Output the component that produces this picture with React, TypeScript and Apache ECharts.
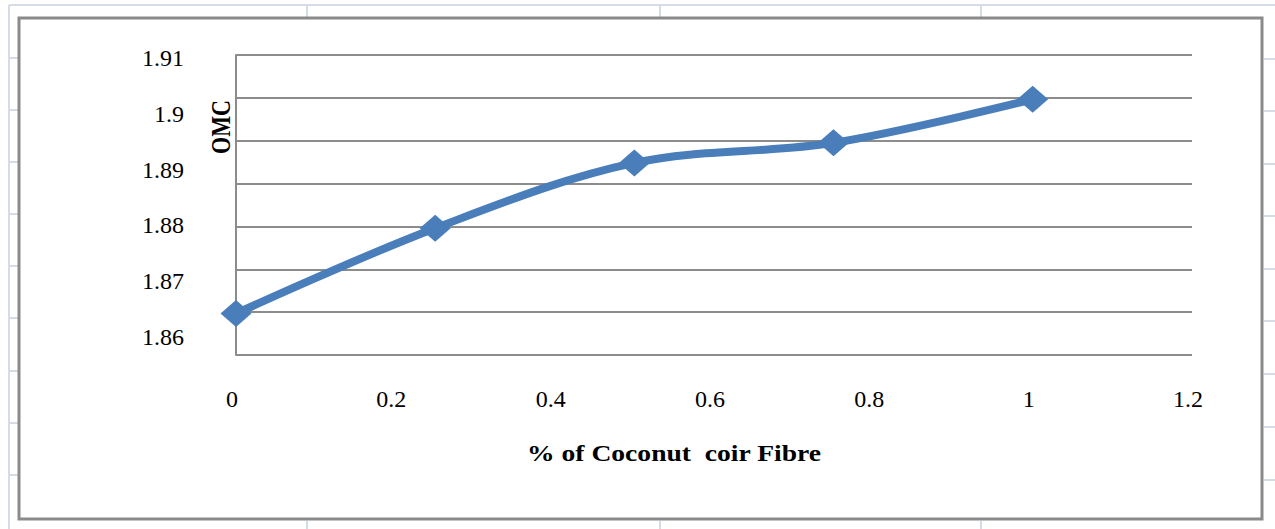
import React, { useEffect, useRef } from "react";
import * as echarts from "echarts";

const xValues = [0, 0.25, 0.5, 0.75, 1];
const omcValues = [1.8642, 1.8795, 1.8912, 1.8948, 1.9026];
const yTickMin = 1.86;
const yTickMax = 1.91;
const yTickStep = 0.01;
const xMin = 0;
const xMax = 1.2;
const xStep = 0.2;
const gridBands = 7;
const xTitle = "% of Coconut  coir Fibre";
const yTitle = "OMC";

const SERIF = "'Liberation Serif', 'Times New Roman', serif";
const SHEET = "#d5dce8";

export default function App() {
  const ref = useRef<HTMLDivElement>(null);
  useEffect(() => {
    if (!ref.current) return;
    const chart = echarts.init(ref.current, undefined, { renderer: "svg" });
    const sheetLines: any[] = [];
    const seg = (x1: number, y1: number, x2: number, y2: number) =>
      sheetLines.push({
        type: "line",
        shape: { x1, y1, x2, y2 },
        style: { stroke: SHEET, lineWidth: 2 },
        silent: true,
      });
    seg(9, 5, 1275, 5);
    seg(9, 5, 9, 529);
    [307, 660, 981].forEach((x) => {
      seg(x, 5, x, 17);
      seg(x, 521, x, 529);
    });
    [58, 110, 162, 214, 266, 318, 371, 423, 475].forEach((y) => seg(9, y, 18, y));
    [59, 111, 164, 216, 269, 321, 374, 427, 480].forEach((y) => seg(1264, y, 1275, y));

    chart.setOption({
      animation: false,
      backgroundColor: "#ffffff",
      grid: [
        { left: 236, top: 55, width: 956, height: 300 },
        { left: 236, top: 58, width: 956, height: 279 },
      ],
      xAxis: [
        {
          type: "value",
          gridIndex: 0,
          min: xMin,
          max: xMax,
          interval: xStep,
          axisLine: { show: false },
          axisTick: { show: false },
          splitLine: { show: false },
          axisLabel: {
            fontFamily: SERIF,
            fontSize: 24,
            color: "#000",
            margin: 32,
            padding: [0, 8, 0, 0],
          },
        },
        {
          type: "value",
          gridIndex: 1,
          min: xMin,
          max: xMax,
          show: false,
        },
      ],
      yAxis: [
        {
          type: "value",
          gridIndex: 0,
          min: 0,
          max: gridBands,
          interval: 1,
          axisLabel: { show: false },
          axisTick: { show: false },
          axisLine: { show: true, lineStyle: { color: "#8c8c8c", width: 2 } },
          splitLine: { show: true, lineStyle: { color: "#8c8c8c", width: 2 } },
        },
        {
          type: "value",
          gridIndex: 1,
          min: yTickMin,
          max: yTickMax,
          interval: yTickStep,
          axisLine: { show: false },
          axisTick: { show: false },
          splitLine: { show: false },
          axisLabel: {
            fontFamily: SERIF,
            fontSize: 24,
            color: "#000",
            margin: 52,
            formatter: (v: number) => String(parseFloat(v.toFixed(2))),
          },
        },
      ],
      graphic: [
        ...sheetLines,
        {
          type: "rect",
          shape: { x: 19, y: 18, width: 1243, height: 501 },
          style: { fill: "transparent", stroke: "#8a8a8a", lineWidth: 3 },
          silent: true,
        },
        {
          type: "text",
          x: 674,
          y: 453,
          scaleX: 1.2,
          style: {
            text: xTitle,
            font: `bold 23px ${SERIF}`,
            fill: "#000",
            align: "center",
            verticalAlign: "middle",
          },
        },
        {
          type: "text",
          x: 221,
          y: 127,
          rotation: Math.PI / 2,
          scaleY: 1.25,
          style: {
            text: yTitle,
            font: `bold 22px ${SERIF}`,
            fill: "#000",
            align: "center",
            verticalAlign: "middle",
          },
        },
      ],
      series: [
        {
          type: "line",
          xAxisIndex: 1,
          yAxisIndex: 1,
          data: xValues.map((x, i) => [x, omcValues[i]]),
          smooth: 0.35,
          clip: false,
          symbol: "diamond",
          symbolSize: [31, 27],
          lineStyle: { color: "#4a7ebb", width: 8 },
          itemStyle: { color: "#4a7ebb" },
          z: 5,
        },
      ],
    });
    return () => chart.dispose();
  }, []);
  return (
    <div
      ref={ref}
      style={{ position: "fixed", left: 0, top: 0, width: 1275, height: 529 }}
    />
  );
}
